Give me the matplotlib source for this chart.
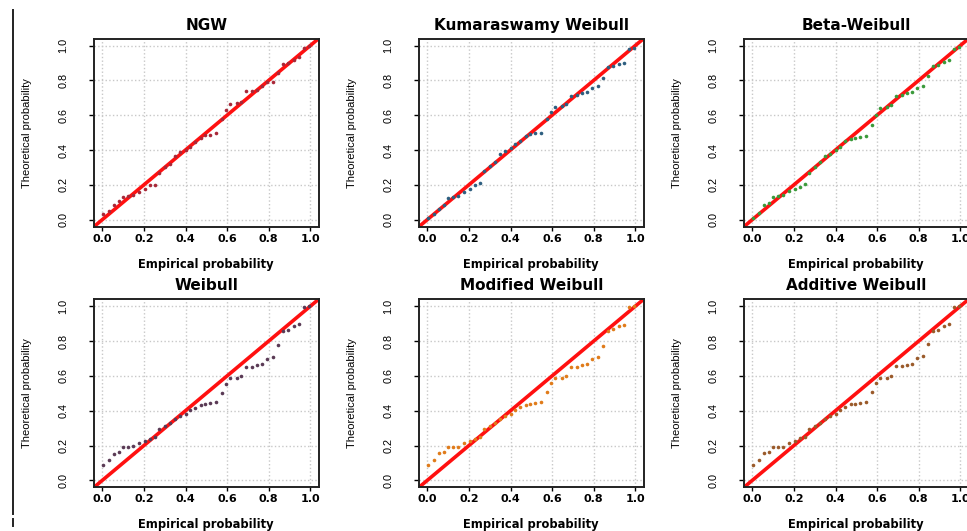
import matplotlib
matplotlib.use('Agg')
import matplotlib.pyplot as plt
from matplotlib import font_manager
from matplotlib.lines import Line2D


# empirical probabilities (shared by all panels)
empirical = [0.005, 0.030, 0.055, 0.080, 0.101, 0.125, 0.149, 0.177, 0.205, 0.230,
             0.254, 0.273, 0.300, 0.325, 0.350, 0.375, 0.403, 0.422, 0.446, 0.474,
             0.494, 0.518, 0.547, 0.575, 0.595, 0.615, 0.647, 0.666, 0.692, 0.722,
             0.743, 0.767, 0.791, 0.820, 0.844, 0.868, 0.892, 0.920, 0.944, 0.968, 0.992]

# theoretical probabilities for each model
ngw = [0.030, 0.050, 0.085, 0.105, 0.132, 0.135, 0.140, 0.161, 0.177, 0.198,
       0.200, 0.270, 0.300, 0.320, 0.368, 0.386, 0.400, 0.420, 0.445, 0.470,
       0.485, 0.487, 0.495, 0.580, 0.630, 0.664, 0.671, 0.676, 0.737, 0.737,
       0.745, 0.765, 0.790, 0.793, 0.840, 0.895, 0.900, 0.915, 0.935, 0.988, 0.995]
kumaraswamy = [0.010, 0.030, 0.060, 0.085, 0.125, 0.128, 0.138, 0.160, 0.176, 0.200,
               0.210, 0.280, 0.310, 0.330, 0.379, 0.395, 0.410, 0.437, 0.454, 0.480,
               0.490, 0.495, 0.498, 0.580, 0.619, 0.648, 0.655, 0.665, 0.713, 0.718,
               0.725, 0.732, 0.757, 0.766, 0.814, 0.877, 0.885, 0.895, 0.900, 0.980, 0.985]
beta_weibull = [0.010, 0.040, 0.086, 0.095, 0.130, 0.135, 0.144, 0.163, 0.176, 0.190,
                0.205, 0.270, 0.300, 0.330, 0.364, 0.375, 0.400, 0.420, 0.450, 0.465,
                0.469, 0.475, 0.483, 0.546, 0.603, 0.642, 0.645, 0.660, 0.709, 0.718,
                0.725, 0.732, 0.757, 0.766, 0.824, 0.881, 0.890, 0.905, 0.916, 0.981, 0.990]
weibull = [0.086, 0.115, 0.153, 0.163, 0.190, 0.190, 0.195, 0.215, 0.226, 0.240,
           0.250, 0.297, 0.310, 0.330, 0.350, 0.370, 0.379, 0.402, 0.418, 0.431,
           0.440, 0.444, 0.448, 0.504, 0.556, 0.588, 0.588, 0.600, 0.651, 0.651,
           0.661, 0.670, 0.699, 0.709, 0.780, 0.860, 0.866, 0.885, 0.897, 0.996, 1.000]
modified_weibull = [0.086, 0.115, 0.155, 0.163, 0.190, 0.192, 0.194, 0.215, 0.228, 0.240,
                    0.250, 0.297, 0.310, 0.330, 0.350, 0.370, 0.379, 0.404, 0.420, 0.433,
                    0.440, 0.444, 0.450, 0.506, 0.558, 0.588, 0.590, 0.600, 0.653, 0.653,
                    0.661, 0.670, 0.699, 0.709, 0.772, 0.860, 0.868, 0.885, 0.895, 0.996, 1.000]
additive_weibull = [0.086, 0.115, 0.155, 0.163, 0.190, 0.192, 0.194, 0.215, 0.228, 0.244,
                    0.250, 0.297, 0.310, 0.330, 0.350, 0.370, 0.379, 0.406, 0.422, 0.437,
                    0.440, 0.444, 0.450, 0.506, 0.560, 0.588, 0.590, 0.600, 0.655, 0.657,
                    0.661, 0.670, 0.702, 0.713, 0.782, 0.860, 0.866, 0.887, 0.899, 0.996, 1.000]

titles = ['NGW', 'Kumaraswamy Weibull', 'Beta-Weibull',
          'Weibull', 'Modified Weibull', 'Additive Weibull']
series = [ngw, kumaraswamy, beta_weibull, weibull, modified_weibull, additive_weibull]
colors = ['#a82838', '#2e5f80', '#3a9a3a', '#5a3a55', '#e07b1a', '#9a5a2a']
ticks = [0.0, 0.2, 0.4, 0.6, 0.8, 1.0]
tick_labels = ['0.0', '0.2', '0.4', '0.6', '0.8', '1.0']


def pick_font(candidates):
    names = set(f.name for f in font_manager.fontManager.ttflist)
    for c in candidates:
        if c in names:
            return c
    return 'DejaVu Sans'


narrow = pick_font(['Liberation Sans Narrow', 'DejaVu Sans Condensed', 'Liberation Sans'])
W, H = 967.0, 531.0

fig = plt.figure(figsize=(9.67, 5.31), dpi=100)

# axes boxes in pixels: left, top, width, height
lefts = [94, 419, 744]
tops = [38.6, 299.3]
aw, ah = 224.6, 188.0

for k in range(6):
    r, c = divmod(k, 3)
    ax = fig.add_axes([lefts[c] / W, 1 - (tops[r] + ah) / H, aw / W, ah / H])
    ax.set_xlim(-0.04, 1.04)
    ax.set_ylim(-0.04, 1.04)
    ax.grid(True, color='#c8c8c8', linestyle=':', linewidth=1.0)
    ax.set_axisbelow(True)
    ax.axline((0, 0), slope=1, color='#ff1010', linewidth=2.6, zorder=2)
    ax.plot(empirical, series[k], linestyle='none', marker='o', markersize=2.6,
            color=colors[k], markeredgewidth=0, zorder=3)

    ax.set_xticks(ticks)
    ax.set_xticklabels(tick_labels, fontfamily='DejaVu Sans', fontweight='bold', fontsize=8)
    ax.set_yticks(ticks)
    ax.set_yticklabels(tick_labels, fontfamily=narrow, fontsize=7.8, rotation=90, va='center')
    ax.tick_params(axis='x', length=3, width=1, pad=2)
    ax.tick_params(axis='y', length=3.6, width=1, pad=15)
    for s in ax.spines.values():
        s.set_linewidth(1.4)
        s.set_color('#222222')

    ax.set_title(titles[k], fontfamily='DejaVu Sans', fontweight='bold', fontsize=11, pad=6.5)
    ax.set_xlabel('Empirical probability', fontfamily='DejaVu Sans', fontweight='bold', fontsize=8.3)
    ax.xaxis.set_label_coords(0.5, -0.165)
    ax.set_ylabel('Theoretical probability', fontfamily=narrow, fontsize=8)
    ax.yaxis.set_label_coords(-0.276, 0.5)

# vertical rule at the left edge
fig.add_artist(Line2D([13 / W, 13 / W], [1 - 10 / H, 1 - 514 / H], color='#222222', linewidth=1.4))
fig.add_artist(Line2D([13 / W, 13 / W], [1 - 519 / H, 1 - 526 / H], color='#222222', linewidth=1.4))

fig.savefig('out.png', dpi=100)
